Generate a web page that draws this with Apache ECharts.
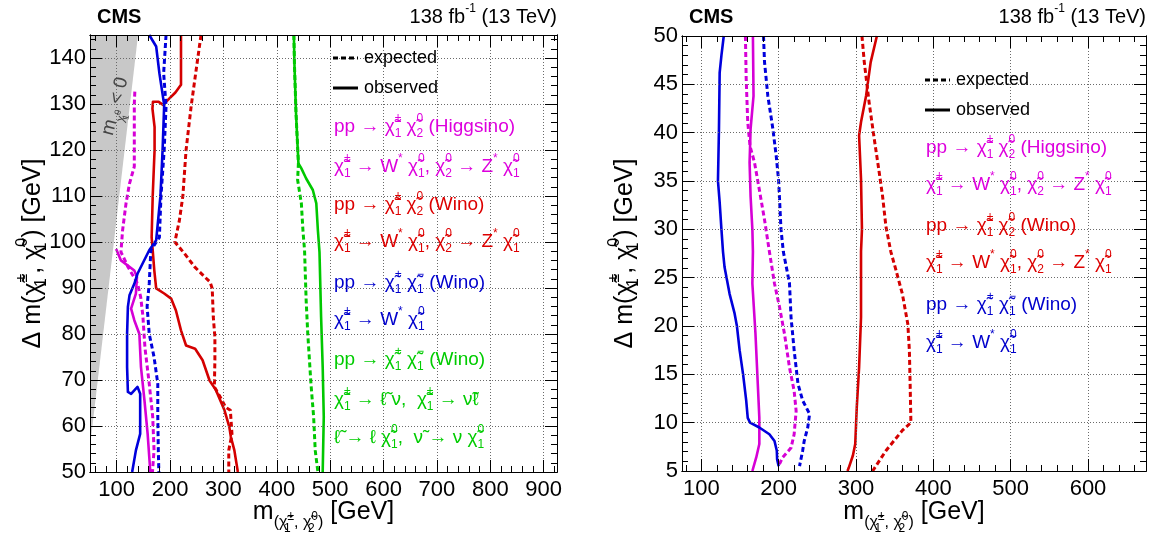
<!DOCTYPE html>
<html><head><meta charset="utf-8">
<script src="https://cdn.jsdelivr.net/npm/echarts@6/dist/echarts.min.js"></script>
<style>html,body{margin:0;padding:0;background:#fff}#c{width:1153px;height:542px}</style>
</head><body><div id="c"></div>
<script>
// ---------------- DATA ----------------
// Left panel axes
const leftXRange = [50, 925];
const leftYRange = [50, 145];
const leftXTicks = [100, 200, 300, 400, 500, 600, 700, 800, 900];
const leftYTicks = [50, 60, 70, 80, 90, 100, 110, 120, 130, 140];
// Right panel axes
const rightXRange = [75, 675];
const rightYRange = [5, 50];
const rightXTicks = [100, 200, 300, 400, 500, 600];
const rightYTicks = [5, 10, 15, 20, 25, 30, 35, 40, 45, 50];

// kinematically forbidden region (m(chi1^0) < 0), left panel
const shadeX = [50, 140, 50];
const shadeY = [55.5, 145, 145];

// Left panel curves [m, dm]
const higgsinoObsL = [[99,98.5],[108,96],[133,93.8],[138,92.4],[136,88.8],[127,85.5],[133,83],[142.5,80],[145.5,72.8],[152,65.6],[158,58.3],[163,50]];
const higgsinoExpL = [[134,132.7],[133,130],[133,116.4],[124,112.7],[117.5,108.4],[111,102.5],[108,97.8],[114,96.4],[121,94.6],[139,91],[145,88],[149,84],[153,77],[161,69.2],[167.5,62],[170,54.7],[167,50]];
const winoN2ObsL = [[220.5,145],[220.5,134.2],[210,132.5],[197,131],[187,129.8],[178,130.5],[168,130.5],[167,129],[171,125],[171,120],[167.5,110],[165.5,101],[167.5,98.2],[170.5,93.8],[174,89.9],[189,88.8],[202,87.7],[211,85.1],[220.5,80.8],[230,77.5],[247,76.8],[261,74.3],[274,69.9],[286,67.8],[302,63.4],[311,59.8],[314,57.6],[320.5,54.7],[327,50]];
const winoN2ExpL = [[258,145],[249,137.5],[239.5,129.5],[230,120],[224,110],[217.5,104.7],[209,100],[227,97.5],[246,94.6],[265,92.4],[275,91.3],[279,89.9],[281,83.7],[284,79.3],[284,74.3],[283,68.5],[294,66.3],[304,64.1],[313,63.4],[316,58.3],[310,54.7],[310,50]];
const winoC1ObsL = [[161,145],[174,142.5],[180,136.7],[189,129.8],[186,120],[182,110],[174,100.4],[161,98.2],[139,93.1],[133,90.9],[124,88.4],[121,85.9],[119.5,80],[119.5,72.8],[121,67.4],[127,67],[139,68.5],[144,67],[144,58.3],[136,54.7],[129,50]];
const winoC1ExpL = [[192.5,145],[188,136.7],[192.5,129.5],[189,120],[183,110],[180,101],[164,98.2],[161,91],[157,86],[161,80],[170,75],[177,69.2],[177,62],[178,54.7],[179,50]];
const sleptonObsL = [[432,145],[433,138.9],[436,128],[440.5,117.1],[446,116],[455,113.8],[467.5,111.3],[474,108.4],[477,102.5],[480,97.8],[483,83.7],[486,72.8],[488,62],[486,50]];
const sleptonExpL = [[432,145],[433,138.9],[436,128],[440.5,117.1],[439,113.5],[446,108.4],[449,102.5],[452,98.2],[455,87.3],[458,80.1],[464,69.2],[469,62],[472,54.7],[477,50]];

// Right panel curves [m, dm]
const higgsinoObsR = [[166.7,50],[167.5,43.8],[163.7,40.4],[162.4,36.9],[163.7,33.4],[166,30],[166.7,27.7],[166,24.4],[170,19.2],[173,14],[175,10.5],[175,7.8],[171,6.4],[166,5]];
const higgsinoExpR = [[157,50],[158,45.6],[160,41.1],[163,38.6],[168.8,36.9],[175,34.1],[181.7,31],[188,27.7],[194.6,24.4],[201,22],[207.5,19.2],[214,15.7],[220,13.3],[222.6,11.2],[220,8.8],[216,7.4],[205,6.4],[201,5.7]];
const winoN2ObsR = [[327,50],[319,47.3],[313,43.8],[306.5,41.1],[304,39.7],[306.5,35.2],[307.7,30],[306.5,27.7],[306.5,20.9],[304,15.7],[301,11.6],[299,7.8],[296,6.6],[290.5,5.3],[289,5]];
const winoN2ExpR = [[307.7,50],[310.7,47.3],[317,43.1],[323.7,39.3],[330,35.9],[334.4,33.4],[338.7,30.3],[345,27.7],[351.6,25.8],[360,23.3],[367,20.2],[369,17.5],[370,14],[371,10],[360,9.2],[338.7,7.1],[321.5,5]];
const winoC1ObsR = [[129,50],[126,48],[123.7,46.2],[122.8,40.4],[121.5,35],[123.7,32.8],[126,30],[128,27.7],[130,26.1],[136.6,23.3],[143,21.3],[146,20],[149.5,17.5],[154,15],[158,12.3],[160,10.5],[163,10],[175,9.5],[188,8.8],[194.6,8.1],[197.6,7.1],[198,6.2],[200,5.5]];
const winoC1ExpR = [[180.4,50],[181.7,47.3],[186,43.8],[192.5,40.4],[196.8,37.6],[200,35],[203,30],[206,27.7],[214,24.4],[216,20.9],[220,17.5],[225,14],[231,12.3],[240,10.9],[237.6,9.5],[233,8.1],[231,7.1],[227,5.5]];

// Texts
const CH = 'χ\u0303', SL = 'ℓ\u0303', SN = 'ν\u0303';
const cmsText = 'CMS';
const lumiText = '138 fb^{-1} (13 TeV)';
const expText = 'expected';
const obsText = 'observed';
const higgsinoLabels = ['pp → ' + CH + '_1^± ' + CH + '_2^0 (Higgsino)', CH + '_1^± → W^* ' + CH + '_1^0, ' + CH + '_2^0 → Z^* ' + CH + '_1^0'];
const winoN2Labels = ['pp → ' + CH + '_1^± ' + CH + '_2^0 (Wino)', CH + '_1^± → W^* ' + CH + '_1^0, ' + CH + '_2^0 → Z^* ' + CH + '_1^0'];
const winoC1Labels = ['pp → ' + CH + '_1^+ ' + CH + '_1^− (Wino)', CH + '_1^± → W^* ' + CH + '_1^0'];
const sleptonLabels = ['pp → ' + CH + '_1^+ ' + CH + '_1^− (Wino)', CH + '_1^± → ' + SL + ' ν,  ' + CH + '_1^± → ' + SN + 'ℓ', SL + ' → ℓ ' + CH + '_1^0,  ' + SN + ' → ν ' + CH + '_1^0'];

// ---------------- STYLE / LAYOUT ----------------
const FONT = '"Liberation Sans", Arial, Helvetica, sans-serif';
const MAG = '#d600d6', RED = '#d40000', BLUE = '#0000dc', GREEN = '#00c800';
const GL = {left: 90, top: 35, width: 467, height: 437};
const GR = {left: 682, top: 36, width: 464, height: 435};

function steps(a, b, s) { const r = []; for (let v = a; v <= b + 1e-9; v += s) r.push(+v.toFixed(6)); return r; }
const leftXMinor = steps(60, 920, 20), leftYMinor = steps(52, 144, 2);
const rightXMinor = steps(80, 660, 20), rightYMinor = steps(6, 49, 1);

function rt(src) {
  let out = '', buf = '', i = 0;
  const flush = () => { if (buf) { out += '{n|' + buf + '}'; buf = ''; } };
  while (i < src.length) {
    const ch = src[i];
    if (ch === '^' || ch === '_') {
      flush(); i++;
      let g;
      if (src[i] === '{') { const j = src.indexOf('}', i); g = src.slice(i + 1, j); i = j + 1; }
      else { g = src[i]; i++; }
      let st = ch === '^' ? 'p' : 'b';
      if (ch === '_' && src[i] === '^') st = 'b0';
      out += '{' + st + '|' + g + '}';
    } else { buf += ch; i++; }
  }
  flush();
  return out;
}
function richSt(fs, color, lf) {
  const s = Math.round(fs * 0.62), ss = Math.round(fs * 0.46), L = Math.round(fs * (lf || 1.95));
  const up = fs * 0.44, dn = fs * 0.36;
  const pt = Math.max(0, Math.round(L / 2 - up - s / 2)), pb = Math.max(0, Math.round(L / 2 - dn - s / 2));
  const b = (o) => Object.assign({fontFamily: FONT, fill: color}, o);
  return {
    n: b({fontSize: fs, lineHeight: L, verticalAlign: 'middle'}),
    p: b({fontSize: s, lineHeight: s, verticalAlign: 'top', padding: [pt, 0, 0, 0]}),
    b: b({fontSize: s, lineHeight: s, verticalAlign: 'bottom', padding: [0, 0, pb, 0]}),
    b0: b({fontSize: s, lineHeight: s, verticalAlign: 'bottom', width: 0.01, padding: [0, 0, pb, 0]}),
    B: b({fontSize: s, lineHeight: s, verticalAlign: 'bottom', padding: [0, 0, Math.round(fs * 0.16), 0]}),
    Bp: b({fontSize: ss, lineHeight: ss, verticalAlign: 'bottom', padding: [0, 0, Math.round(fs * 0.46), 0]}),
    Bb0: b({fontSize: ss, lineHeight: ss, verticalAlign: 'bottom', width: 0.01, padding: [0, 0, 0, 0]})
  };
}
function txt(x, y, text, fs, color, align) {
  return {type: 'text', x, y, z: 100, silent: true,
    style: {text, rich: richSt(fs, color), align: align || 'left', verticalAlign: 'middle', fontFamily: FONT, fontSize: fs, fill: color}};
}

function ax(dim, grid, range, vals, pos, len, labels) {
  return {
    type: 'value', gridIndex: grid, position: pos, min: range[0], max: range[1],
    axisLine: {show: true, onZero: false, lineStyle: {color: '#000', width: 1}},
    axisTick: {show: true, inside: true, length: len, customValues: vals, lineStyle: {color: '#000', width: 1}},
    axisLabel: {show: labels, customValues: vals, fontSize: 22, fontFamily: FONT, color: '#000', margin: dim === 'x' ? 7 : 4},
    splitLine: {show: labels, lineStyle: {type: [1, 2], color: '#6a6a6a', width: 1}},
    z: 10
  };
}
const xAxis = [
  ax('x', 0, leftXRange, leftXTicks, 'bottom', 12, true), ax('x', 0, leftXRange, leftXTicks, 'top', 12, false),
  ax('x', 1, leftXRange, leftXMinor, 'bottom', 6, false), ax('x', 1, leftXRange, leftXMinor, 'top', 6, false),
  ax('x', 2, rightXRange, rightXTicks, 'bottom', 12, true), ax('x', 2, rightXRange, rightXTicks, 'top', 12, false),
  ax('x', 3, rightXRange, rightXMinor, 'bottom', 6, false), ax('x', 3, rightXRange, rightXMinor, 'top', 6, false)
];
const yAxis = [
  ax('y', 0, leftYRange, leftYTicks, 'left', 12, true), ax('y', 0, leftYRange, leftYTicks, 'right', 12, false),
  ax('y', 1, leftYRange, leftYMinor, 'left', 6, false), ax('y', 1, leftYRange, leftYMinor, 'right', 6, false),
  ax('y', 2, rightYRange, rightYTicks, 'left', 12, true), ax('y', 2, rightYRange, rightYTicks, 'right', 12, false),
  ax('y', 3, rightYRange, rightYMinor, 'left', 6, false), ax('y', 3, rightYRange, rightYMinor, 'right', 6, false)
];
const grid = [GL, GL, GR, GR].map(g => Object.assign({containLabel: false, outerBoundsMode: 'none'}, g));

function curve(data, color, dashed, side) {
  return {type: 'line', data, xAxisIndex: side, yAxisIndex: side, symbol: 'none', showSymbol: false,
    clip: true, silent: true, animation: false, z: 3,
    lineStyle: {color, width: dashed ? 3 : 2.6, type: dashed ? [5, 3] : 'solid', cap: 'butt', join: 'round'}};
}

const annot = '{n|m}{B|' + CH + '}{Bb0|1}{Bp|0}{n| < 0}';
const series = [
  {type: 'custom', xAxisIndex: 0, yAxisIndex: 0, data: [[50, 50]], clip: true, silent: true, animation: false, z: 1,
    renderItem: function (params, api) {
      const pts = shadeX.map((x, i) => api.coord([x, shadeY[i]]));
      const c = api.coord([97, 129.5]);
      return {type: 'group', children: [
        {type: 'polygon', shape: {points: pts}, style: {fill: '#c8c8c8'}},
        {type: 'text', x: c[0], y: c[1], rotation: 75 * Math.PI / 180,
          style: {text: annot, rich: richSt(19, '#444', 1.9), align: 'center', verticalAlign: 'middle'}}
      ]};
    }},
  curve(higgsinoObsL, MAG, false, 0), curve(higgsinoExpL, MAG, true, 0),
  curve(winoN2ObsL, RED, false, 0), curve(winoN2ExpL, RED, true, 0),
  curve(winoC1ObsL, BLUE, false, 0), curve(winoC1ExpL, BLUE, true, 0),
  curve(sleptonObsL, GREEN, false, 0), curve(sleptonExpL, GREEN, true, 0),
  curve(higgsinoObsR, MAG, false, 4), curve(higgsinoExpR, MAG, true, 4),
  curve(winoN2ObsR, RED, false, 4), curve(winoN2ExpR, RED, true, 4),
  curve(winoC1ObsR, BLUE, false, 4), curve(winoC1ExpR, BLUE, true, 4)
];

// ---------------- GRAPHIC TEXTS ----------------
const graphic = [];
function panelTexts(g, legX, legYs, groups) {
  const right = g.left + g.width;
  graphic.push({type: 'text', x: g.left + 7, y: 17, z: 100, style: {text: cmsText, fontFamily: FONT, fontWeight: 'bold', fontSize: 20, fill: '#000', align: 'left', verticalAlign: 'middle'}});
  graphic.push(txt(right, 17, rt(lumiText), 20, '#000', 'right'));
  // expected / observed samples
  graphic.push({type: 'line', z: 100, shape: {x1: legX, y1: legYs[0], x2: legX + 25, y2: legYs[0]}, style: {stroke: '#000', lineWidth: 3, lineDash: [5, 3]}});
  graphic.push({type: 'line', z: 100, shape: {x1: legX, y1: legYs[1], x2: legX + 25, y2: legYs[1]}, style: {stroke: '#000', lineWidth: 3}});
  graphic.push(txt(legX + 31, legYs[0], rt(expText), 18, '#000'));
  graphic.push(txt(legX + 31, legYs[1], rt(obsText), 18, '#000'));
  let k = 2;
  groups.forEach(([labels, color]) => labels.forEach(l => { graphic.push(txt(legX + 1, legYs[k++], rt(l), 19, color)); }));
  // axis titles
  const xt = '{n|m}{B|(' + CH + '}{Bb0|1}{Bp|±}{B|, ' + CH + '}{Bb0|2}{Bp|0}{B|)}{n| [GeV]}';
  graphic.push({type: 'text', x: g.left + g.width / 2, y: 512, z: 100, silent: true,
    style: {text: xt, rich: richSt(25, '#000', 1.8), align: 'center', verticalAlign: 'middle'}});
  graphic.push({type: 'text', x: g.left - 57, y: g.top + g.height / 2, rotation: Math.PI / 2, z: 100, silent: true,
    style: {text: rt('Δ m(' + CH + '_1^±, ' + CH + '_1^0) [GeV]'), rich: richSt(25, '#000'), align: 'center', verticalAlign: 'middle'}});
}
panelTexts(GL, 333, [58, 88, 127, 167, 205, 242, 283, 320, 360, 400, 438],
  [[higgsinoLabels, '#dd00dd'], [winoN2Labels, '#dd0000'], [winoC1Labels, '#0000cc'], [sleptonLabels, '#00cc00']]);
panelTexts(GR, 925, [80, 110, 148, 185, 226, 263, 305, 343],
  [[higgsinoLabels, '#dd00dd'], [winoN2Labels, '#dd0000'], [winoC1Labels, '#0000cc']]);

const chart = echarts.init(document.getElementById('c'), null, {renderer: 'canvas'});
chart.setOption({backgroundColor: '#fff', animation: false, grid, xAxis, yAxis, series, graphic});
</script></body></html>
